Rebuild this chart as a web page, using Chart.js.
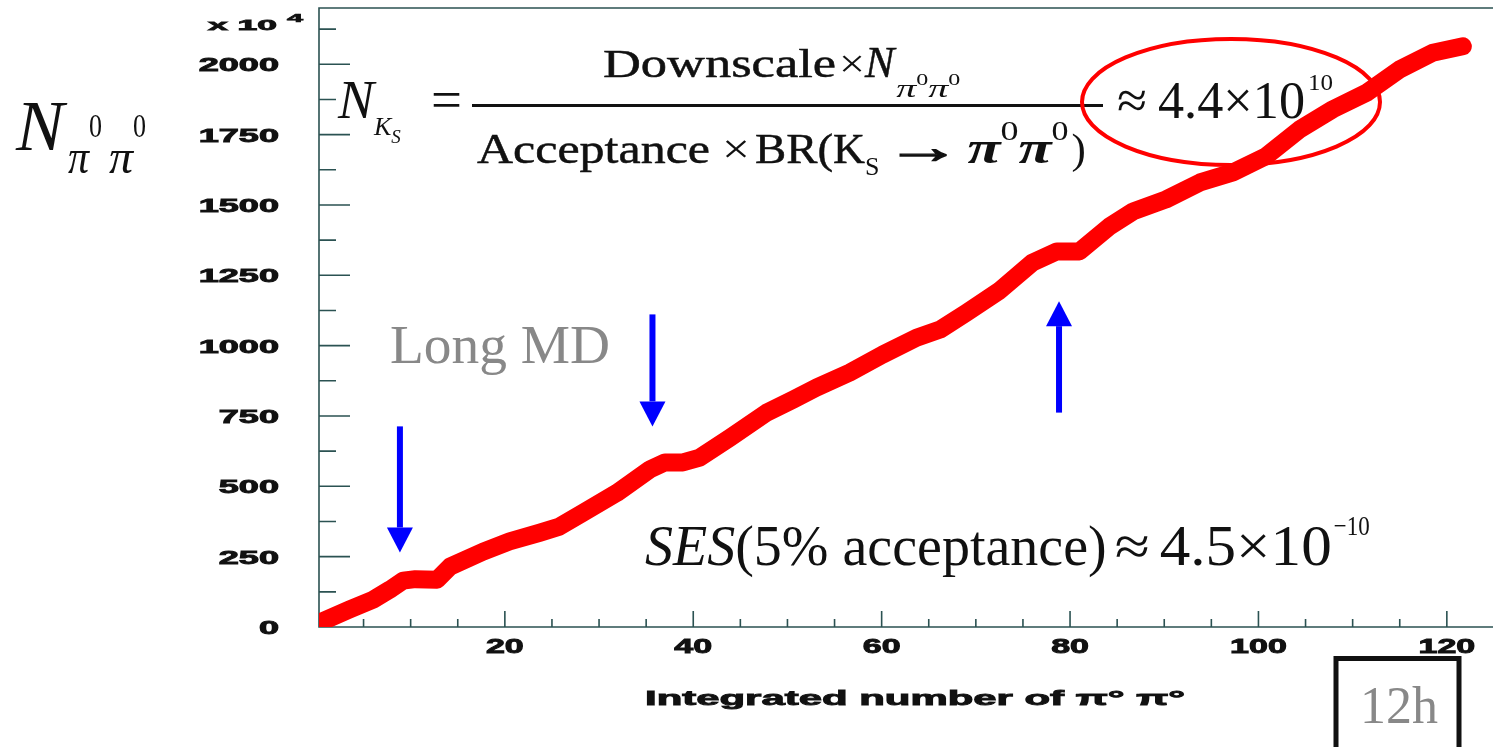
<!DOCTYPE html>
<html>
<head>
<meta charset="utf-8">
<title>Integrated number of π0 π0</title>
<script src="https://cdn.jsdelivr.net/npm/chart.js@4.4.1/dist/chart.umd.min.js"></script>
<style>
  html, body { margin: 0; padding: 0; background: #fff; }
  #wrap { width: 1493px; height: 747px; }
</style>
</head>
<body>
<div id="wrap"><canvas id="lumi" width="1493" height="747"></canvas></div>
<script>
'use strict';

// integrated number of pi0 pi0 (x) against N(pi0 pi0) in units of 10^4 (y)
const xValues = [0.3, 3.5, 6.0, 7.8, 9.2, 10.5, 12.8, 14.2, 17.7, 20.5, 23.7, 25.8, 28.3, 31.9, 35.4,
    37.0, 38.9, 40.7, 43.9, 47.8, 50.6, 53.1, 56.6, 60.1, 63.7, 66.2, 69.0, 72.5, 76.0, 78.6,
    81.0, 84.2, 86.7, 90.2, 93.8, 97.3, 100.8, 104.4, 107.9, 111.5, 115.0, 118.5, 121.7];
const yValues = [15, 62, 97, 133, 165, 170, 168, 215, 268, 304, 335, 357, 406, 477, 560,
    585, 585, 602, 673, 762, 808, 851, 904, 968, 1028, 1057, 1117, 1195, 1295, 1335,
    1335, 1424, 1477, 1520, 1580, 1616, 1673, 1769, 1840, 1899, 1982, 2041, 2064];

const yTickLabels = ['0', '250', '500', '750', '1000', '1250', '1500', '1750', '2000'];
const xTickLabels = ['20', '40', '60', '80', '100', '120'];

// blue arrows (x position, tail, head) in data units
const arrowX = [8.86, 35.67, 78.83];
const arrowFrom = [713, 1111, 762];
const arrowTo = [265, 713, 1158];

const SERIF = '"Liberation Serif", "Times New Roman", serif';
const SANS = '"Liberation Sans", Arial, sans-serif';
const AXIS = '#2b5252';
const INK = '#111';

let text = (ctx, s, x, y, font, color, opt = {}) => {
    ctx.save();
    ctx.font = font;
    ctx.fillStyle = color;
    ctx.strokeStyle = color;
    ctx.textBaseline = 'alphabetic';
    let w = ctx.measureText(s).width;
    let sx = opt.width ? opt.width / w : (opt.sx || 1);
    let x0 = x;
    if (opt.align === 'right') x0 = x - w * sx;
    if (opt.align === 'center') x0 = x - w * sx / 2;
    ctx.translate(x0, y);
    ctx.scale(sx, 1);
    ctx.fillText(s, 0, 0);
    if (opt.heavy) {
        ctx.lineWidth = opt.heavy;
        ctx.strokeText(s, 0, 0);
    }
    ctx.restore();
    return x0 + w * sx;
};

let run = (ctx, x, y, parts) => {
    parts.forEach(p => {
        if (p.gap) {
            x += p.gap;
            return;
        }
        x = text(ctx, p.t, x, y + (p.dy || 0), p.f, p.c || INK, {width: p.w, heavy: p.h});
    });
    return x;
};

const axes = {
    id: 'axes',
    beforeDatasetsDraw(chart) {
        const {ctx, chartArea: a, scales: {x, y}} = chart;
        ctx.save();
        ctx.strokeStyle = AXIS;
        ctx.lineWidth = 1.6;
        ctx.beginPath();
        for (let v = 125; v <= y.max; v += 125) {
            let py = y.getPixelForValue(v);
            ctx.moveTo(a.left, py);
            ctx.lineTo(a.left + (v % 250 ? 17 : 31), py);
        }
        for (let v = 5; v < x.max; v += 5) {
            let px = x.getPixelForValue(v);
            ctx.moveTo(px, a.bottom);
            ctx.lineTo(px, a.bottom - (v % 20 ? 8 : 16));
        }
        ctx.moveTo(a.right, a.top);
        ctx.lineTo(a.left, a.top);
        ctx.lineTo(a.left, a.bottom);
        ctx.lineTo(a.right, a.bottom);
        ctx.stroke();
        ctx.restore();
    }
};

const labels = {
    id: 'labels',
    afterDraw(chart) {
        const {ctx, scales: {x, y}} = chart;

        // tick labels
        yTickLabels.forEach(lab => {
            text(ctx, lab, 279, y.getPixelForValue(+lab) + 7, 'bold 19px ' + SANS, INK, {sx: 1.9, align: 'right', heavy: 0.9});
        });
        xTickLabels.forEach(lab => {
            text(ctx, lab, x.getPixelForValue(+lab), 653, 'bold 20px ' + SANS, INK, {sx: 1.7, align: 'center', heavy: 0.9});
        });
        text(ctx, 'x 10', 208, 30, 'bold 15px ' + SANS, INK, {width: 69, heavy: 0.8});
        text(ctx, '4', 287, 22, 'bold 11px ' + SANS, INK, {width: 16, heavy: 0.6});

        // axis titles
        text(ctx, 'Integrated number of π° π°', 645, 705, 'bold 21px ' + SANS, INK, {width: 540, heavy: 0.9});
        run(ctx, 16, 150, [
            {t: 'N', f: 'italic 72px ' + SERIF},
            {gap: 4},
            {t: 'π', f: 'italic 48px ' + SERIF, dy: 23, w: 21},
            {t: '0', f: '33px ' + SERIF, dy: -13, w: 13},
            {gap: 7},
            {t: 'π', f: 'italic 48px ' + SERIF, dy: 23, w: 24},
            {t: '0', f: '33px ' + SERIF, dy: -13, w: 13}
        ]);

        // formula
        run(ctx, 338, 118, [
            {t: 'N', f: 'italic 54px ' + SERIF},
            {t: 'K', f: 'italic 26px ' + SERIF, dy: 17},
            {t: 'S', f: 'italic 19px ' + SERIF, dy: 25}
        ]);
        text(ctx, '=', 431, 118, '54px ' + SERIF, INK, {width: 31});
        ctx.save();
        ctx.fillStyle = INK;
        ctx.fillRect(472, 104, 631, 3);
        ctx.restore();
        run(ctx, 603, 77, [
            {t: 'Downscale', f: '41px ' + SERIF, w: 233, h: 0.5},
            {gap: 3},
            {t: '×', f: '40px ' + SERIF, w: 26},
            {t: 'N', f: 'italic 44px ' + SERIF, h: 0.5},
            {gap: 2},
            {t: 'π', f: 'italic 26px ' + SERIF, dy: 20, w: 20},
            {t: '0', f: '17px ' + SERIF, dy: 8, w: 12},
            {t: 'π', f: 'italic 26px ' + SERIF, dy: 20, w: 20},
            {t: '0', f: '17px ' + SERIF, dy: 8, w: 12}
        ]);
        run(ctx, 477, 163, [
            {t: 'Acceptance', f: '43px ' + SERIF, w: 233, h: 0.5},
            {gap: 12},
            {t: '×', f: '42px ' + SERIF, w: 28},
            {gap: 5},
            {t: 'BR(', f: '43px ' + SERIF, w: 78, h: 0.5},
            {t: 'K', f: '43px ' + SERIF, w: 32, h: 0.5},
            {t: 'S', f: '26px ' + SERIF, dy: 12},
            {gap: 6},
            {t: '→', f: '46px ' + SERIF, w: 76, h: 1.4},
            {gap: 6},
            {t: 'π', f: 'bold italic 46px ' + SERIF, w: 33},
            {t: '0', f: '28px ' + SERIF, dy: -23, w: 18},
            {t: 'π', f: 'bold italic 46px ' + SERIF, w: 33},
            {t: '0', f: '28px ' + SERIF, dy: -23, w: 17},
            {gap: 3},
            {t: ')', f: '43px ' + SERIF}
        ]);
        run(ctx, 1117, 118, [
            {t: '≈', f: '53px ' + SERIF, w: 30},
            {gap: 11},
            {t: '4.4×10', f: '53px ' + SERIF, w: 147},
            {gap: 3},
            {t: '10', f: '24px ' + SERIF, dy: -28, w: 25}
        ]);
        ctx.save();
        ctx.strokeStyle = '#ff0000';
        ctx.lineWidth = 4;
        ctx.beginPath();
        ctx.ellipse(1231, 102, 149, 63, 0, 0, Math.PI * 2);
        ctx.stroke();
        ctx.restore();

        // SES line
        run(ctx, 645, 565, [
            {t: 'SES', f: 'italic 56px ' + SERIF},
            {t: '(5% acceptance)', f: '56px ' + SERIF},
            {gap: 8},
            {t: '≈', f: '56px ' + SERIF, w: 35},
            {gap: 10},
            {t: '4.5×10', f: '56px ' + SERIF, w: 172},
            {gap: 2},
            {t: '−10', f: '28px ' + SERIF, dy: -30, w: 36}
        ]);

        text(ctx, 'Long MD', 390, 363, '55px ' + SERIF, '#888', {width: 220});

        // arrows
        ctx.save();
        ctx.fillStyle = '#0000ff';
        arrowX.forEach((v, i) => {
            let px = x.getPixelForValue(v);
            let p0 = y.getPixelForValue(arrowFrom[i]);
            let p1 = y.getPixelForValue(arrowTo[i]);
            let dir = Math.sign(p1 - p0);
            let base = p1 - dir * 25;
            ctx.fillRect(px - 3, Math.min(p0, base), 6, Math.abs(base - p0));
            ctx.beginPath();
            ctx.moveTo(px - 13, base);
            ctx.lineTo(px + 13, base);
            ctx.lineTo(px, p1);
            ctx.closePath();
            ctx.fill();
        });
        ctx.restore();

        // 12h box
        ctx.save();
        ctx.lineWidth = 5;
        ctx.strokeStyle = INK;
        ctx.strokeRect(1336, 658.5, 123, 110);
        ctx.restore();
        text(ctx, '12h', 1360, 723, '52px ' + SERIF, '#888', {width: 78});
    }
};

const points = xValues.map((v, i) => ({x: v, y: yValues[i]}));

new Chart(document.getElementById('lumi'), {
    type: 'line',
    data: {
        datasets: [{
            data: points,
            borderColor: '#ff0000',
            borderWidth: 18,
            pointRadius: 0,
            borderJoinStyle: 'round',
            borderCapStyle: 'round',
            tension: 0,
            fill: false,
            clip: {left: 0, top: 10, right: 10, bottom: 0}
        }]
    },
    options: {
        responsive: false,
        animation: false,
        events: [],
        layout: {padding: {left: 319, top: 8, right: 0, bottom: 120}},
        scales: {
            x: {type: 'linear', min: 0.27, max: 124.9, display: false},
            y: {min: 0, max: 2200, display: false}
        },
        plugins: {
            legend: {display: false},
            tooltip: {enabled: false}
        }
    },
    plugins: [axes, labels]
});
</script>
</body>
</html>
